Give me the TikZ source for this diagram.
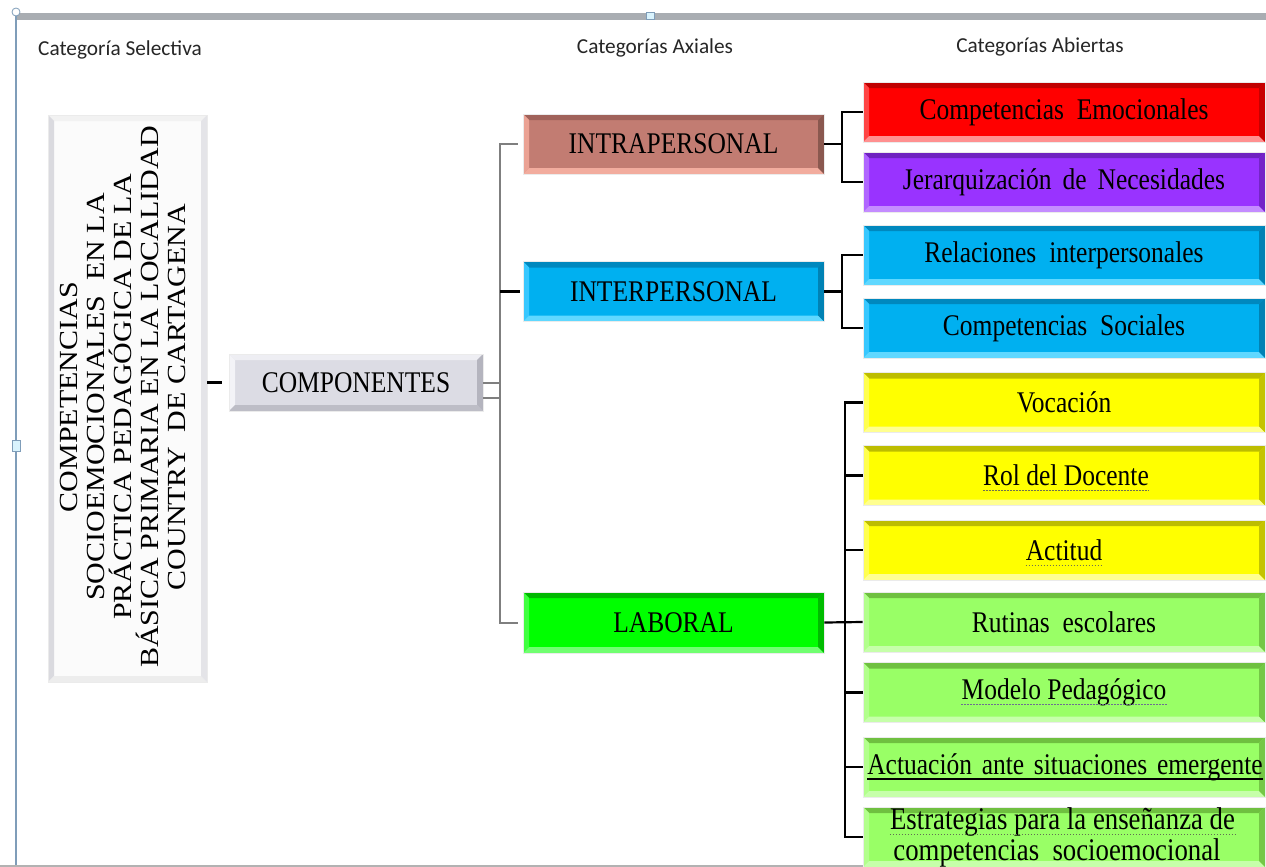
\documentclass[tikz,border=0pt]{standalone}
\usepackage{fontspec}
\usepackage{graphicx}
\setmainfont{Liberation Serif}
\newfontfamily\boxfont[FakeStretch=0.85]{Liberation Serif}
\newfontfamily\hdrfont{Carlito}
\usetikzlibrary{calc}
\definecolor{framebl}{HTML}{7F9DB9}
\definecolor{barg}{HTML}{A9ADB2}
\definecolor{conng}{HTML}{7F7F7F}
% fill, top, left, bottom, right
\definecolor{redF}{HTML}{FF0000}\definecolor{redT}{HTML}{C00000}\definecolor{redL}{HTML}{FF4545}\definecolor{redB}{HTML}{FF9090}\definecolor{redR}{HTML}{C80000}
\definecolor{purF}{HTML}{9933FF}\definecolor{purT}{HTML}{6F22C0}\definecolor{purL}{HTML}{B066FF}\definecolor{purB}{HTML}{C48CFF}\definecolor{purR}{HTML}{7424C8}
\definecolor{bluF}{HTML}{00B0F0}\definecolor{bluT}{HTML}{0088BE}\definecolor{bluL}{HTML}{38C8FF}\definecolor{bluB}{HTML}{60D8FF}\definecolor{bluR}{HTML}{0082B4}
\definecolor{yelF}{HTML}{FFFF00}\definecolor{yelT}{HTML}{BDBD00}\definecolor{yelL}{HTML}{FFFF50}\definecolor{yelB}{HTML}{FFFF90}\definecolor{yelR}{HTML}{C4C400}
\definecolor{lgrF}{HTML}{99FF66}\definecolor{lgrT}{HTML}{6FC040}\definecolor{lgrL}{HTML}{B2FF8C}\definecolor{lgrB}{HTML}{C6FFAA}\definecolor{lgrR}{HTML}{74C846}
\definecolor{grnF}{HTML}{00FF00}\definecolor{grnT}{HTML}{00B800}\definecolor{grnL}{HTML}{40FF40}\definecolor{grnB}{HTML}{70FF70}\definecolor{grnR}{HTML}{00BC00}
\definecolor{rosF}{HTML}{C27C72}\definecolor{rosT}{HTML}{A0625A}\definecolor{rosL}{HTML}{EBA294}\definecolor{rosB}{HTML}{F2AC9E}\definecolor{rosR}{HTML}{8A584F}
\definecolor{gryF}{HTML}{DCDCE4}\definecolor{gryT}{HTML}{EEEEF3}\definecolor{gryL}{HTML}{F3F3F7}\definecolor{gryB}{HTML}{BDBDC6}\definecolor{gryR}{HTML}{B4B4BE}
\definecolor{whtF}{HTML}{FBFBFB}\definecolor{whtT}{HTML}{F2F2F2}\definecolor{whtL}{HTML}{DADADF}\definecolor{whtB}{HTML}{EDEDED}\definecolor{whtR}{HTML}{E4E4E8}
\definecolor{ulyel}{HTML}{707050}
\definecolor{ulblu}{HTML}{6E6E90}
\definecolor{ulgrn}{HTML}{607050}
\tikzset{
  bev/.style={fill=#1F, path picture={
    \path (path picture bounding box.north west) coordinate (qNW)
          (path picture bounding box.north east) coordinate (qNE)
          (path picture bounding box.south west) coordinate (qSW)
          (path picture bounding box.south east) coordinate (qSE);
    \path ([shift={(6pt,-6pt)}]qNW) coordinate (iNW)
          ([shift={(-6pt,-6pt)}]qNE) coordinate (iNE)
          ([shift={(6pt,6pt)}]qSW) coordinate (iSW)
          ([shift={(-6pt,6pt)}]qSE) coordinate (iSE);
    \fill[#1T] (qNW) -- (qNE) -- (iNE) -- (iNW) -- cycle;
    \fill[#1L] (qNW) -- (iNW) -- (iSW) -- (qSW) -- cycle;
    \fill[#1B] (qSW) -- (iSW) -- (iSE) -- (qSE) -- cycle;
    \fill[#1R] (qNE) -- (qSE) -- (iSE) -- (iNE) -- cycle;
  }},
  boxbase/.style={rectangle, inner sep=0pt, draw=black!8, line width=0.8pt,
    font=\boxfont\fontsize{30}{31}\selectfont, align=center},
  axbox/.style={boxbase, minimum width=301pt, minimum height=60pt},
  opbox/.style={boxbase, minimum width=402pt, minimum height=60pt},
  bline/.style={black, line width=2.2pt},
  gline/.style={conng, line width=2pt},
  hdr/.style={font=\hdrfont\fontsize{21.3}{23}\selectfont, text=black!85, inner sep=0pt},
  txt/.style={font=\boxfont\fontsize{30}{31}\selectfont, inner sep=0pt},
  dotul/.style={line width=1.4pt, dash pattern=on 1.6pt off 1.4pt},
}
\begin{document}
\begin{tikzpicture}[x=1pt,y=-1pt]
\useasboundingbox (0,0) rectangle (1266,867);
\clip (0,0) rectangle (1266,867);
\fill[white] (0,0) rectangle (1266,867);

% frame artefacts
\fill[barg] (15,13) rectangle (1266,20);
\draw[framebl, line width=1.5pt] (16,13) -- (16,867);
\draw[framebl, fill=white, line width=0.8pt] (16,12) circle (4);
\draw[framebl, fill=cyan!15, line width=0.8pt] (646,12) rectangle (654,19);
\draw[framebl, fill=cyan!15, line width=0.8pt] (12,440) rectangle (20,451);
\draw[black!30, line width=1.5pt] (0,866) -- (863,866);

% headers
\node[hdr] (h1) at (120,50) {Categoría Selectiva};
\node[hdr] (h2) at (655,48) {Categorías Axiales};
\node[hdr] (h3) at (1040,47) {Categorías Abiertas};

% selective category
\node[boxbase, bev=wht, minimum width=159pt, minimum height=567pt] (sel) at (127.5,398.5) {};
\node[rotate=90, inner sep=0pt] (seltxt) at (126,397) {\scalebox{1}[0.87]{\fontsize{30}{31}\selectfont
  \begin{tabular}{@{}c@{}}\smash{COMPETENCIAS}\\ \smash{SOCIOEMOCIONALES\ \ EN LA}\\ \smash{PRÁCTICA PEDAGÓGICA DE LA}\\ \smash{BÁSICA PRIMARIA EN LA LOCALIDAD}\\ \smash{COUNTRY\ \ DE CARTAGENA}\end{tabular}}};

% components
\node[boxbase, bev=gry, minimum width=254pt, minimum height=57pt] (comp) at (356,382.5) {COMPONENTES};

% axial categories
\node[axbox, bev=ros] (intra) at (673.5,144) {INTRAPERSONAL};
\node[axbox, bev=blu] (inter) at (673.5,291.5) {INTERPERSONAL};
\node[axbox, bev=grn, minimum height=61pt] (labo) at (673.5,622.5) {LABORAL};

% open categories
\node[opbox, bev=red] (a1) at (1064,112) {Competencias\ \ Emocionales};
\node[opbox, bev=pur] (a2) at (1064,182) {Jerarquización\hspace{11pt}de\hspace{11pt}Necesidades};
\node[opbox, bev=blu] (a3) at (1064,255) {Relaciones\hspace{13pt}interpersonales};
\node[opbox, bev=blu] (a4) at (1064,328) {Competencias\ \ Sociales};
\node[opbox, bev=yel] (a5) at (1064,402.5) {Vocación};
\node[opbox, bev=yel] (a6) at (1064,475.5) {};
\node[opbox, bev=yel] (a7) at (1064,550) {};
\node[opbox, bev=lgr] (a8) at (1064,622) {Rutinas\ \ escolares};
\node[opbox, bev=lgr] (a9) at (1064,692.5) {};
\node[opbox, bev=lgr] (a10) at (1064,767) {};
\node[opbox, bev=lgr] (a11) at (1064,837) {};

% underlined texts
\node[txt] (t6) at (1066,475.5) {Rol del Docente};
\node[txt] (t7) at (1064,550) {Actitud};
\node[txt] (t9) at (1064,692.5) {Modelo Pedagógico};
\node[txt] (t10) at (1065,767) {Actuación\hspace{9.7pt}ante\hspace{9.7pt}situaciones\hspace{9.7pt}emergente};
\node[txt, font=\boxfont\fontsize{31.5}{32}\selectfont] (t11a) at (1062.5,822) {Estrategias para la enseñanza de};
\node[txt, font=\boxfont\fontsize{31.5}{32}\selectfont] (t11b) at (1057,853) {competencias\ \ socioemocional};
\draw[dotul, ulyel] ([yshift=-5pt]t6.base west) -- ([yshift=-5pt]t6.base east);
\draw[dotul, ulyel] ([yshift=-5pt]t7.base west) -- ([yshift=-5pt]t7.base east);
\draw[dotul, ulblu] ([yshift=-5pt]t9.base west) -- ([yshift=-5pt]t9.base east);
\draw[black, line width=2pt] ([yshift=-5pt]t10.base west) -- ([yshift=-5pt]t10.base east);
\draw[dotul, ulgrn] ([yshift=-5pt]t11a.base west) -- ([yshift=-5pt]t11a.base east);

% connectors: selective -> components
\draw[bline] (sel.east |- comp.west) -- ([xshift=-7pt]comp.west);

% components -> axial (grey trunk)
\coordinate (tk) at (500,390);
\coordinate (c2) at ([yshift=-15pt]comp.east);
\draw[gline] ([xshift=-5pt]intra.west) -| (tk) |- ([xshift=-5pt]labo.west);
\draw[gline] (comp.east) -- (tk |- comp.east);
\draw[gline] (c2) -- (tk |- c2);
\draw[bline] (tk |- inter.west) -- ([xshift=-3pt]inter.west);

% intra -> open
\coordinate (j1) at (842,144);
\draw[bline] (intra.east) -- (j1);
\draw[bline] (a1.west) -| (j1) |- (a2.west);
% inter -> open
\coordinate (j2) at (842,291.5);
\draw[bline] (inter.east) -- (j2);
\draw[bline] (a3.west) -| (j2) |- (a4.west);
% laboral -> open
\coordinate (j3) at (845,622);
\draw[bline] (labo.east) -- (a8.west);
\draw[bline] (a5.west) -| (j3) |- (a11.west);
\foreach \n in {a6,a7,a9,a10} {\draw[bline] (j3 |- \n.west) -- (\n.west);}
\end{tikzpicture}
\end{document}
